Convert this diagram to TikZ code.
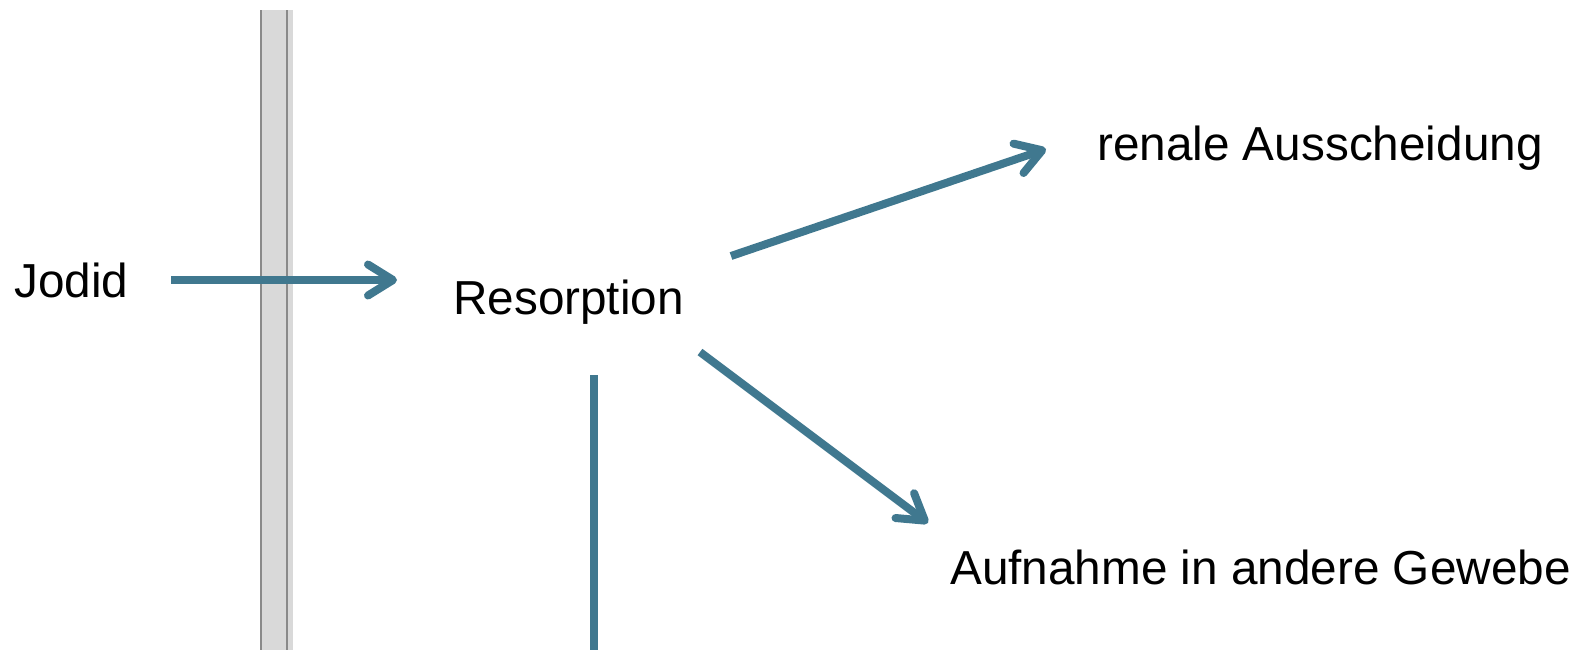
\documentclass[tikz,border=0pt]{standalone}
\usepackage{fontspec}
\setmainfont{Liberation Sans}
\usetikzlibrary{arrows.meta}
\definecolor{arrowblue}{RGB}{64,120,143}
\definecolor{barfill}{RGB}{217,217,217}
\definecolor{barline}{RGB}{138,138,138}
\begin{document}
\begin{tikzpicture}[x=1pt,y=-1pt,
  conn/.style={draw=arrowblue, line width=8pt},
  tipped/.style={-{Straight Barb[length=25pt,width=31pt,round]}},
  lbl/.style={inner sep=0pt, anchor=base west, font=\fontsize{47.7}{56}\selectfont}]
\useasboundingbox (0,0) rectangle (1581,649);
% membrane bar
\fill[barfill] (260,10) rectangle (292.7,670);
\draw[barline, line width=2pt] (261,10) -- (261,670);
\draw[barline, line width=2pt] (287,10) -- (287,670);
% labels
\node[lbl] (jodid) at (14,297) {Jodid};
\node[lbl] (res) at (453,314) {Resorption};
\node[lbl] (renal) at (1097,160) {renale Ausscheidung};
\node[lbl] (aufn) at (950,584) {Aufnahme in andere Gewebe};
% connector end points
\coordinate (jS) at (171,280);
\coordinate (jE) at (397,280);
\coordinate (uS) at (731,256);
\coordinate (uE) at (1046,149);
\coordinate (dS) at (700,352);
\coordinate (dE) at (928,523);
\coordinate (vS) at (594,375);
\coordinate (vE) at (594,670);
% connectors
\draw[conn,tipped] (jS) -- (jE);
\draw[conn,tipped] (uS) -- (uE);
\draw[conn,tipped] (dS) -- (dE);
\draw[conn] (vS) -- (vE);
\end{tikzpicture}
\end{document}
